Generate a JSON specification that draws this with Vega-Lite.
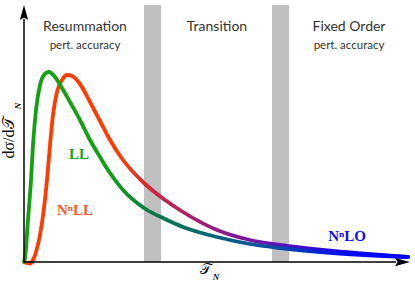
{
  "$schema": "https://vega.github.io/schema/vega-lite/v6.json",
  "width": 386,
  "height": 257,
  "autosize": "none",
  "padding": {"left": 24, "top": 5, "right": 5, "bottom": 23},
  "background": "white",
  "config": {"view": {"stroke": null}, "axis": {"disable": true}},
  "datasets": {
    "bands": [{"x": 120, "x2": 137}, {"x": 248, "x2": 265}],
    "curves": [
      {"series": "LL", "x": 0, "y": 0},
      {"series": "LL", "x": 1, "y": 4},
      {"series": "LL", "x": 4, "y": 42},
      {"series": "LL", "x": 7, "y": 82},
      {"series": "LL", "x": 9, "y": 117},
      {"series": "LL", "x": 12, "y": 152},
      {"series": "LL", "x": 16, "y": 177},
      {"series": "LL", "x": 20, "y": 187},
      {"series": "LL", "x": 25, "y": 190},
      {"series": "LL", "x": 31, "y": 185},
      {"series": "LL", "x": 38, "y": 174},
      {"series": "LL", "x": 46, "y": 160},
      {"series": "LL", "x": 56, "y": 142},
      {"series": "LL", "x": 66, "y": 122},
      {"series": "LL", "x": 76, "y": 105},
      {"series": "LL", "x": 86, "y": 89},
      {"series": "LL", "x": 99, "y": 72},
      {"series": "LL", "x": 120, "y": 54},
      {"series": "LL", "x": 141, "y": 43},
      {"series": "LL", "x": 159, "y": 35},
      {"series": "LL", "x": 193, "y": 25},
      {"series": "LL", "x": 226, "y": 18},
      {"series": "LL", "x": 256, "y": 14},
      {"series": "LL", "x": 309, "y": 9},
      {"series": "LL", "x": 384, "y": 5},
      {"series": "NnLL", "x": 0, "y": 0},
      {"series": "NnLL", "x": 3, "y": -1},
      {"series": "NnLL", "x": 6, "y": -1.5},
      {"series": "NnLL", "x": 9, "y": 2},
      {"series": "NnLL", "x": 12, "y": 10},
      {"series": "NnLL", "x": 16, "y": 27},
      {"series": "NnLL", "x": 20, "y": 54},
      {"series": "NnLL", "x": 23, "y": 82},
      {"series": "NnLL", "x": 26, "y": 117},
      {"series": "NnLL", "x": 29, "y": 147},
      {"series": "NnLL", "x": 33, "y": 170},
      {"series": "NnLL", "x": 38, "y": 182},
      {"series": "NnLL", "x": 43, "y": 187},
      {"series": "NnLL", "x": 48, "y": 186},
      {"series": "NnLL", "x": 56, "y": 178},
      {"series": "NnLL", "x": 66, "y": 160},
      {"series": "NnLL", "x": 76, "y": 141},
      {"series": "NnLL", "x": 86, "y": 122},
      {"series": "NnLL", "x": 99, "y": 102},
      {"series": "NnLL", "x": 120, "y": 79},
      {"series": "NnLL", "x": 141, "y": 62},
      {"series": "NnLL", "x": 159, "y": 50},
      {"series": "NnLL", "x": 193, "y": 32},
      {"series": "NnLL", "x": 226, "y": 22},
      {"series": "NnLL", "x": 256, "y": 17},
      {"series": "NnLL", "x": 309, "y": 11},
      {"series": "NnLL", "x": 384, "y": 5}
    ],
    "axes": [
      {"x": 0, "y": 0, "x2": 0, "y2": 243},
      {"x": 0, "y": 0, "x2": 372, "y2": 0}
    ],
    "arrows": [
      {"dir": "up", "x": 0, "y": 249.5},
      {"dir": "right", "x": 378.5, "y": 0}
    ],
    "regions": [
      {"label": "Resummation", "kind": "head", "x": 61, "y": 235},
      {"label": "pert. accuracy", "kind": "sub", "x": 61, "y": 216},
      {"label": "Transition", "kind": "head", "x": 193, "y": 235},
      {"label": "Fixed Order", "kind": "head", "x": 325, "y": 235},
      {"label": "pert. accuracy", "kind": "sub", "x": 325, "y": 216}
    ],
    "curvelabels": [
      {"label": "LL", "x": 55, "y": 108},
      {"label": "NⁿLL", "x": 51, "y": 52},
      {"label": "NⁿLO", "x": 323, "y": 26}
    ]
  },
  "layer": [
    {
      "data": {"name": "bands"},
      "mark": {"type": "rect", "color": "#c0c0c0"},
      "encoding": {
        "x": {"field": "x", "type": "quantitative", "scale": {"domain": [0, 386], "nice": false, "zero": false}},
        "x2": {"field": "x2"}
      }
    },
    {
      "data": {"name": "curves"},
      "transform": [{"filter": "datum.series === 'NnLL'"}],
      "mark": {
        "type": "line",
        "strokeWidth": 3.8,
        "strokeCap": "round",
        "interpolate": "monotone",
        "stroke": {
          "gradient": "linear", "x1": 0, "x2": 1, "y1": 0, "y2": 0,
          "stops": [
            {"offset": 0, "color": "#ff3c00"},
            {"offset": 0.26, "color": "#ff3c00"},
            {"offset": 0.33, "color": "#cc2840"},
            {"offset": 0.5, "color": "#921c80"},
            {"offset": 0.66, "color": "#6010b8"},
            {"offset": 0.82, "color": "#1a00ee"},
            {"offset": 1, "color": "#0000ff"}
          ]
        }
      },
      "encoding": {
        "x": {"field": "x", "type": "quantitative"},
        "y": {"field": "y", "type": "quantitative", "scale": {"domain": [0, 257], "nice": false, "zero": false}},
        "order": {"field": "x", "type": "quantitative"}
      }
    },
    {
      "data": {"name": "curves"},
      "transform": [{"filter": "datum.series === 'LL'"}],
      "mark": {
        "type": "line",
        "strokeWidth": 3.8,
        "strokeCap": "round",
        "interpolate": "monotone",
        "stroke": {
          "gradient": "linear", "x1": 0, "x2": 1, "y1": 0, "y2": 0,
          "stops": [
            {"offset": 0, "color": "#13a013"},
            {"offset": 0.22, "color": "#13a013"},
            {"offset": 0.33, "color": "#0a7a48"},
            {"offset": 0.5, "color": "#086478"},
            {"offset": 0.66, "color": "#084aa8"},
            {"offset": 0.82, "color": "#0010e8"},
            {"offset": 1, "color": "#0000ff"}
          ]
        }
      },
      "encoding": {
        "x": {"field": "x", "type": "quantitative"},
        "y": {"field": "y", "type": "quantitative"},
        "order": {"field": "x", "type": "quantitative"}
      }
    },
    {
      "data": {"name": "axes"},
      "mark": {"type": "rule", "color": "#000000", "strokeWidth": 1.5},
      "encoding": {
        "x": {"field": "x", "type": "quantitative"},
        "y": {"field": "y", "type": "quantitative"},
        "x2": {"field": "x2"},
        "y2": {"field": "y2"}
      }
    },
    {
      "data": {"name": "arrows"},
      "mark": {"type": "point", "filled": true, "color": "#000000", "opacity": 1, "size": 225},
      "encoding": {
        "x": {"field": "x", "type": "quantitative"},
        "y": {"field": "y", "type": "quantitative"},
        "shape": {
          "field": "dir", "type": "nominal", "legend": null,
          "scale": {"domain": ["up", "right"], "range": ["M0,-1L0.55,1L0,0.65L-0.55,1Z", "M1,0L-1,-0.55L-0.65,0L-1,0.55Z"]}
        }
      }
    },
    {
      "data": {"name": "regions"},
      "transform": [{"filter": "datum.kind === 'head'"}],
      "mark": {"type": "text", "font": "Lato", "fontSize": 14, "color": "#333333", "align": "center", "baseline": "middle"},
      "encoding": {
        "x": {"field": "x", "type": "quantitative"},
        "y": {"field": "y", "type": "quantitative"},
        "text": {"field": "label"}
      }
    },
    {
      "data": {"name": "regions"},
      "transform": [{"filter": "datum.kind === 'sub'"}],
      "mark": {"type": "text", "font": "Lato", "fontSize": 11.5, "color": "#333333", "align": "center", "baseline": "middle"},
      "encoding": {
        "x": {"field": "x", "type": "quantitative"},
        "y": {"field": "y", "type": "quantitative"},
        "text": {"field": "label"}
      }
    },
    {
      "data": {"name": "curvelabels"},
      "mark": {"type": "text", "font": "Liberation Serif", "fontWeight": "bold", "fontSize": 15, "align": "center", "baseline": "middle"},
      "encoding": {
        "x": {"field": "x", "type": "quantitative"},
        "y": {"field": "y", "type": "quantitative"},
        "text": {"field": "label"},
        "color": {
          "field": "label", "type": "nominal", "legend": null,
          "scale": {"domain": ["LL", "NⁿLL", "NⁿLO"], "range": ["#22a022", "#ff5a30", "#1010f0"]}
        }
      }
    },
    {
      "data": {"values": [{"label": "dσ/d𝒯", "x": -15, "y": 124}]},
      "mark": {"type": "text", "font": "Liberation Serif", "fontSize": 16, "angle": 270, "color": "#111111", "align": "center", "baseline": "middle"},
      "encoding": {
        "x": {"field": "x", "type": "quantitative"},
        "y": {"field": "y", "type": "quantitative"},
        "text": {"field": "label"}
      }
    },
    {
      "data": {"values": [{"label": "N", "x": -6, "y": 156}, {"label": "N", "x": 192, "y": -15}]},
      "mark": {"type": "text", "font": "Liberation Serif", "fontStyle": "italic", "fontWeight": "bold", "fontSize": 9, "color": "#111111", "align": "center", "baseline": "middle"},
      "encoding": {
        "x": {"field": "x", "type": "quantitative"},
        "y": {"field": "y", "type": "quantitative"},
        "text": {"field": "label"},
        "angle": {"field": "x", "type": "quantitative", "scale": {"type": "threshold", "domain": [0], "range": [270, 0]}, "legend": null}
      }
    },
    {
      "data": {"values": [{"label": "𝒯", "x": 181, "y": -7}]},
      "mark": {"type": "text", "font": "Liberation Serif", "fontSize": 15, "color": "#111111", "align": "center", "baseline": "middle"},
      "encoding": {
        "x": {"field": "x", "type": "quantitative"},
        "y": {"field": "y", "type": "quantitative"},
        "text": {"field": "label"}
      }
    }
  ]
}
